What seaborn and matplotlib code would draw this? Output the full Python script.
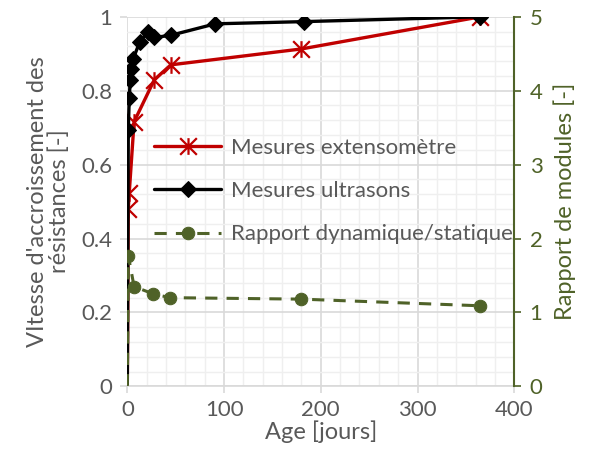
import numpy as np
import seaborn as sns
import matplotlib.pyplot as plt
from matplotlib.path import Path
from matplotlib.ticker import MultipleLocator, FormatStrFormatter

# Data
ext_age = [0, 1, 2, 7, 28, 45, 180, 365]
ext_val = [0, 0.480, 0.524, 0.716, 0.830, 0.870, 0.913, 1.0]

us_age = [0, 1, 2, 3, 4, 6, 13, 21, 28, 45, 91, 183, 365]
us_val = [0, 0.694, 0.780, 0.829, 0.860, 0.886, 0.933, 0.958, 0.944, 0.950, 0.981, 0.987, 1.0]

ratio_age = [0, 1, 7, 27, 44, 180, 365]
ratio_val = [0, 1.77, 1.35, 1.25, 1.20, 1.18, 1.09]

labels = ["Mesures extensomètre", "Mesures ultrasons", "Rapport dynamique/statique"]

RED = "#C00000"
BLACK = "#000000"
GREEN = "#4F6228"
GREY = "#595959"

sns.set_theme(style="white")
plt.rcParams["font.family"] = ["Lato", "DejaVu Sans"]
plt.rcParams["font.size"] = 16

# Excel style star marker: an X with a vertical stroke
star = Path([(-1, -1), (1, 1), (-1, 1), (1, -1), (0, -1), (0, 1)],
            [Path.MOVETO, Path.LINETO, Path.MOVETO, Path.LINETO, Path.MOVETO, Path.LINETO])

fig = plt.figure(figsize=(5.93, 4.54), dpi=100)
ax = fig.add_axes([0.2147, 0.149, 0.6525, 0.814])
ax2 = ax.twinx()

sns.lineplot(x=ext_age, y=ext_val, ax=ax, color=RED, linewidth=2.4, marker=star,
             markersize=12, markeredgewidth=1.6, markeredgecolor=RED, markerfacecolor="none",
             markevery=list(range(1, len(ext_age))),
             estimator=None, sort=False, label=labels[0], legend=False)
sns.lineplot(x=us_age, y=us_val, ax=ax, color=BLACK, linewidth=2.4, marker="D",
             markersize=8, markeredgecolor=BLACK, markevery=list(range(1, len(us_age))),
             estimator=None, sort=False, label=labels[1], legend=False)
sns.lineplot(x=ratio_age, y=ratio_val, ax=ax2, color=GREEN, linewidth=2.2, linestyle=(0, (4, 3)),
             marker="o", markersize=9, markeredgecolor=GREEN,
             markevery=list(range(1, len(ratio_age))),
             estimator=None, sort=False, label=labels[2], legend=False)

ax.set_xlim(0, 400)
ax.set_ylim(0, 1)
ax2.set_ylim(0, 5)

ax.xaxis.set_major_locator(MultipleLocator(100))
ax.xaxis.set_minor_locator(MultipleLocator(20))
ax.yaxis.set_major_locator(MultipleLocator(0.2))
ax.yaxis.set_minor_locator(MultipleLocator(0.04))
ax.yaxis.set_major_formatter(FormatStrFormatter("%g"))
ax2.yaxis.set_major_locator(MultipleLocator(1))

ax.grid(which="major", color="#D9D9D9", linewidth=1.2)
ax.grid(which="minor", color="#EFEFEF", linewidth=1.0)
ax.set_axisbelow(True)

for a in (ax, ax2):
    a.spines["top"].set_visible(False)
    a.spines["left"].set_visible(False)
ax.spines["right"].set_visible(False)
ax.spines["bottom"].set_color("#D9D9D9")
ax.spines["bottom"].set_linewidth(1.2)
ax2.spines["bottom"].set_visible(False)
ax2.spines["right"].set_color(GREEN)
ax2.spines["right"].set_linewidth(1.5)

ax.tick_params(axis="both", which="major", direction="out", length=5, width=1.2,
               color="#D9D9D9", labelcolor=GREY, labelsize=16)
ax.tick_params(which="minor", length=0)
ax.tick_params(axis="x", bottom=True, pad=5)
ax.tick_params(axis="y", left=True, pad=6)
ax2.tick_params(axis="y", direction="out", length=5, width=1.2, color=GREEN,
                labelcolor=GREEN, labelsize=16, pad=6)

ax.set_xlabel("Age [jours]", color=GREY, fontsize=17, labelpad=0)
ax.set_ylabel("VItesse d'accroissement des\nrésistances [-]", color=GREY, fontsize=17,
              linespacing=1.0, labelpad=8)
ax2.set_ylabel("Rapport de modules [-]", color=GREEN, fontsize=17, labelpad=8)

h1, l1 = ax.get_legend_handles_labels()
h2, l2 = ax2.get_legend_handles_labels()
leg = ax2.legend(h1 + h2, l1 + l2, loc="upper left", bbox_to_anchor=(0.245, 0.716),
                 bbox_transform=fig.transFigure, frameon=False, fontsize=16,
                 handlelength=3.0, labelspacing=1.05, handletextpad=0.45, borderaxespad=0)
for t in leg.get_texts():
    t.set_color(GREY)

fig.savefig("out.png", dpi=100)
